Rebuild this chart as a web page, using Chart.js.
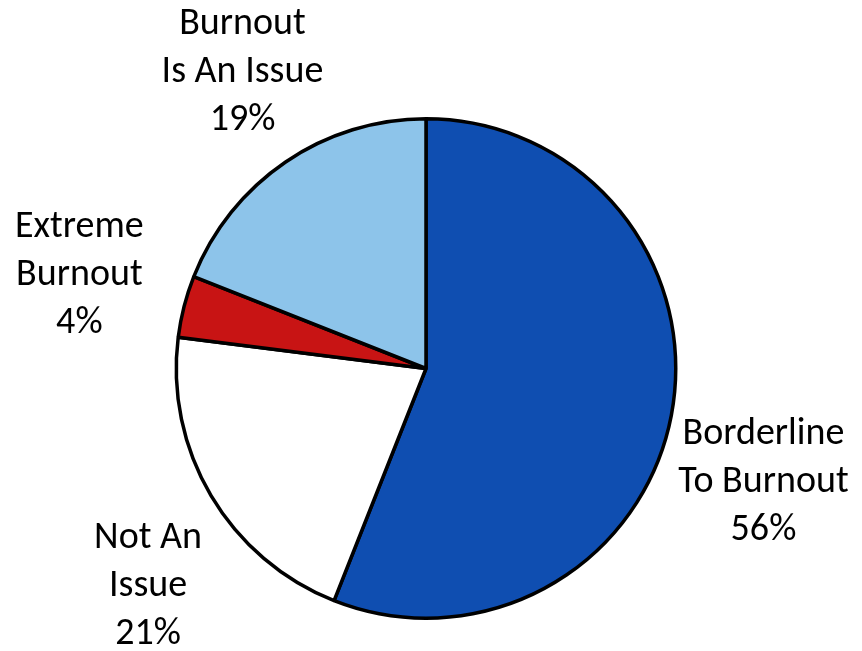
<!DOCTYPE html>
<html>
<head>
<meta charset="utf-8">
<script src="https://cdn.jsdelivr.net/npm/chart.js@4"></script>
<style>
  html, body { margin: 0; padding: 0; background: #ffffff; }
  #wrap { width: 862px; height: 651px; }
</style>
</head>
<body>
<div id="wrap"><canvas id="c" width="862" height="651"></canvas></div>
<script>
// ---- data ----
const categories = ["Borderline|To Burnout", "Not An|Issue", "Extreme|Burnout", "Burnout|Is An Issue"];
const values = [56, 21, 4, 19];
const percentLabels = ["56%", "21%", "4%", "19%"];

// ---- styling ----
const sliceColors = ["#0F4EB1", "#FFFFFF", "#C81414", "#8DC4EA"];
const labelNudges = [[-6, 48], [23, 40], [-8, -6], [13, -7]];
const FONT = '38px Carlito, Calibri, Lato, "Open Sans", sans-serif';
const LINE_H = 48;

const labelPlugin = {
  id: 'outsideLabels',
  afterDatasetsDraw(chart) {
    const ctx = chart.ctx;
    const meta = chart.getDatasetMeta(0);
    ctx.save();
    ctx.font = FONT;
    ctx.fillStyle = '#000';
    ctx.textAlign = 'center';
    ctx.textBaseline = 'middle';
    meta.data.forEach((arc, i) => {
      const p = arc.getProps(['x', 'y', 'startAngle', 'endAngle', 'outerRadius'], true);
      const mid = (p.startAngle + p.endAngle) / 2;
      const d = p.outerRadius * 1.4;
      const cx = p.x + Math.cos(mid) * d + labelNudges[i][0];
      const cy = p.y + Math.sin(mid) * d + labelNudges[i][1];
      const lines = categories[i].split('|').concat([percentLabels[i]]);
      lines.forEach((t, k) => {
        ctx.fillText(t, cx, cy + (k - 1) * LINE_H);
      });
    });
    ctx.restore();
  }
};

new Chart(document.getElementById('c'), {
  type: 'pie',
  data: {
    labels: categories.map(c => c.replace('|', ' ')),
    datasets: [{
      data: values,
      backgroundColor: sliceColors,
      borderColor: '#000000',
      borderWidth: 3.5,
      borderAlign: 'center'
    }]
  },
  options: {
    responsive: false,
    animation: false,
    devicePixelRatio: 1,
    layout: { padding: { top: 117, bottom: 31, left: 0, right: 10 } },
    plugins: {
      legend: { display: false },
      tooltip: { enabled: false },
      title: { display: false }
    }
  },
  plugins: [labelPlugin]
});
</script>
</body>
</html>
